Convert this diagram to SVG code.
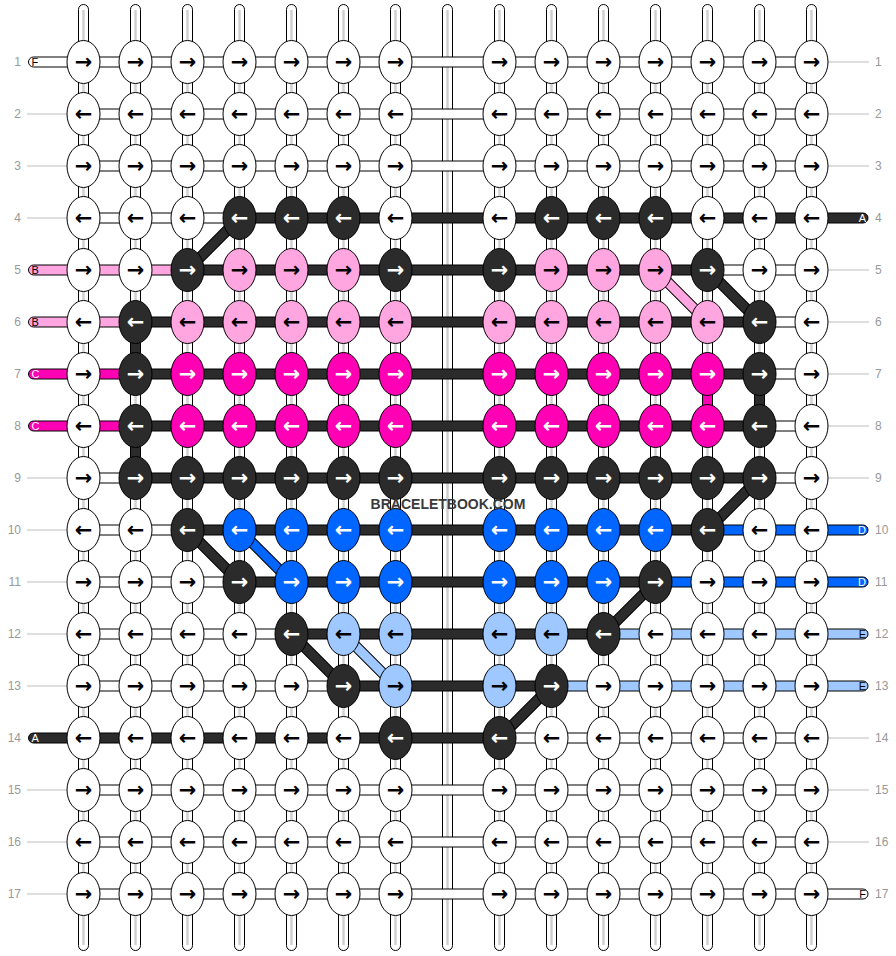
<svg xmlns="http://www.w3.org/2000/svg" width="896" height="956" viewBox="0 0 896 956">
<style>
.n ellipse{stroke:#000;stroke-width:1}
.n text{font-family:"DejaVu Sans",sans-serif;font-weight:bold;font-size:21px;text-anchor:middle}
.w ellipse{fill:#fff}.w text{fill:#000}
.k ellipse{fill:#2b2b2b}.k text{fill:#fff}
.p ellipse{fill:#ffa6e0}.p text{fill:#000}
.m ellipse{fill:#ff00b4}.m text{fill:#fff}
.b ellipse{fill:#0066ff}.b text{fill:#fff}
.l ellipse{fill:#9ec8ff}.l text{fill:#000}
.s{stroke:#000;stroke-width:1}
.fw{fill:#fff}.fk{fill:#2b2b2b}.fp{fill:#ffa6e0}.fm{fill:#ff00b4}.fb{fill:#0066ff}.fl{fill:#9ec8ff}
.v{fill:#fff;stroke:#000;stroke-width:1}
.vc{stroke:#d0d0d0;stroke-width:2.5}
.do{stroke:#000;stroke-width:11}
.dk{stroke:#2b2b2b;stroke-width:9}.dp{stroke:#ffa6e0;stroke-width:9}.db{stroke:#0066ff;stroke-width:9}.dl{stroke:#9ec8ff;stroke-width:9}
.gl{stroke:#bbb;stroke-width:1}
.rn{font-family:"Liberation Sans",Arial,sans-serif;font-size:12px;fill:#999}
.pl{font-family:"Liberation Sans",Arial,sans-serif;font-size:11px}
.wm{font-family:"Liberation Sans",Arial,sans-serif;font-weight:bold;font-size:14px;fill:#3a3a3a;text-anchor:middle}
</style>
<g id="warp">
<rect class="v" x="78.5" y="4.5" width="10" height="946" rx="5"/><line class="vc" x1="83.5" y1="10" x2="83.5" y2="945"/>
<rect class="v" x="130.5" y="4.5" width="10" height="946" rx="5"/><line class="vc" x1="135.5" y1="10" x2="135.5" y2="945"/>
<rect class="v" x="182.5" y="4.5" width="10" height="946" rx="5"/><line class="vc" x1="187.5" y1="10" x2="187.5" y2="945"/>
<rect class="v" x="234.5" y="4.5" width="10" height="946" rx="5"/><line class="vc" x1="239.5" y1="10" x2="239.5" y2="945"/>
<rect class="v" x="286.5" y="4.5" width="10" height="946" rx="5"/><line class="vc" x1="291.5" y1="10" x2="291.5" y2="945"/>
<rect class="v" x="338.5" y="4.5" width="10" height="946" rx="5"/><line class="vc" x1="343.5" y1="10" x2="343.5" y2="945"/>
<rect class="v" x="390.5" y="4.5" width="10" height="946" rx="5"/><line class="vc" x1="395.5" y1="10" x2="395.5" y2="945"/>
<rect class="v" x="442.5" y="4.5" width="10" height="946" rx="5"/><line class="vc" x1="447.5" y1="10" x2="447.5" y2="945"/>
<rect class="v" x="494.5" y="4.5" width="10" height="946" rx="5"/><line class="vc" x1="499.5" y1="10" x2="499.5" y2="945"/>
<rect class="v" x="546.5" y="4.5" width="10" height="946" rx="5"/><line class="vc" x1="551.5" y1="10" x2="551.5" y2="945"/>
<rect class="v" x="598.5" y="4.5" width="10" height="946" rx="5"/><line class="vc" x1="603.5" y1="10" x2="603.5" y2="945"/>
<rect class="v" x="650.5" y="4.5" width="10" height="946" rx="5"/><line class="vc" x1="655.5" y1="10" x2="655.5" y2="945"/>
<rect class="v" x="702.5" y="4.5" width="10" height="946" rx="5"/><line class="vc" x1="707.5" y1="10" x2="707.5" y2="945"/>
<rect class="v" x="754.5" y="4.5" width="10" height="946" rx="5"/><line class="vc" x1="759.5" y1="10" x2="759.5" y2="945"/>
<rect class="v" x="806.5" y="4.5" width="10" height="946" rx="5"/><line class="vc" x1="811.5" y1="10" x2="811.5" y2="945"/>
</g>
<g id="labels">
<line class="gl" x1="27" y1="114" x2="67" y2="114"/><line class="gl" x1="27" y1="166" x2="67" y2="166"/><line class="gl" x1="27" y1="218" x2="67" y2="218"/><line class="gl" x1="27" y1="478" x2="67" y2="478"/><line class="gl" x1="27" y1="530" x2="67" y2="530"/><line class="gl" x1="27" y1="582" x2="67" y2="582"/><line class="gl" x1="27" y1="634" x2="67" y2="634"/><line class="gl" x1="27" y1="686" x2="67" y2="686"/><line class="gl" x1="27" y1="790" x2="67" y2="790"/><line class="gl" x1="27" y1="842" x2="67" y2="842"/><line class="gl" x1="27" y1="894" x2="67" y2="894"/>
<line class="gl" x1="828" y1="62" x2="869" y2="62"/><line class="gl" x1="828" y1="114" x2="869" y2="114"/><line class="gl" x1="828" y1="166" x2="869" y2="166"/><line class="gl" x1="828" y1="270" x2="869" y2="270"/><line class="gl" x1="828" y1="322" x2="869" y2="322"/><line class="gl" x1="828" y1="374" x2="869" y2="374"/><line class="gl" x1="828" y1="426" x2="869" y2="426"/><line class="gl" x1="828" y1="478" x2="869" y2="478"/><line class="gl" x1="828" y1="738" x2="869" y2="738"/><line class="gl" x1="828" y1="790" x2="869" y2="790"/><line class="gl" x1="828" y1="842" x2="869" y2="842"/>
<g class="rn" text-anchor="end">
<text x="21" y="66">1</text><text x="21" y="118">2</text><text x="21" y="170">3</text><text x="21" y="222">4</text><text x="21" y="274">5</text><text x="21" y="326">6</text><text x="21" y="378">7</text><text x="21" y="430">8</text><text x="21" y="482">9</text><text x="21" y="534">10</text><text x="21" y="586">11</text><text x="21" y="638">12</text><text x="21" y="690">13</text><text x="21" y="742">14</text><text x="21" y="794">15</text><text x="21" y="846">16</text><text x="21" y="898">17</text>
</g>
<g class="rn">
<text x="875" y="66">1</text><text x="875" y="118">2</text><text x="875" y="170">3</text><text x="875" y="222">4</text><text x="875" y="274">5</text><text x="875" y="326">6</text><text x="875" y="378">7</text><text x="875" y="430">8</text><text x="875" y="482">9</text><text x="875" y="534">10</text><text x="875" y="586">11</text><text x="875" y="638">12</text><text x="875" y="690">13</text><text x="875" y="742">14</text><text x="875" y="794">15</text><text x="875" y="846">16</text><text x="875" y="898">17</text>
</g>
</g>
<g id="connectors">
<rect class="s fw" x="83.5" y="57" width="728" height="10"/>
<rect class="s fw" x="83.5" y="109" width="728" height="10"/>
<rect class="s fw" x="83.5" y="161" width="728" height="10"/>
<rect class="s fw" x="83.5" y="213" width="156" height="10"/><rect class="s fk" x="239.5" y="213" width="572" height="10"/>
<rect class="s fp" x="83.5" y="265" width="104" height="10"/><rect class="s fk" x="187.5" y="265" width="520" height="10"/><rect class="s fw" x="707.5" y="265" width="104" height="10"/>
<rect class="s fp" x="83.5" y="317" width="52" height="10"/><rect class="s fk" x="135.5" y="317" width="624" height="10"/><rect class="s fw" x="759.5" y="317" width="52" height="10"/>
<rect class="s fm" x="83.5" y="369" width="52" height="10"/><rect class="s fk" x="135.5" y="369" width="624" height="10"/><rect class="s fw" x="759.5" y="369" width="52" height="10"/>
<rect class="s fm" x="83.5" y="421" width="52" height="10"/><rect class="s fk" x="135.5" y="421" width="624" height="10"/><rect class="s fw" x="759.5" y="421" width="52" height="10"/>
<rect class="s fw" x="83.5" y="473" width="52" height="10"/><rect class="s fk" x="135.5" y="473" width="624" height="10"/><rect class="s fw" x="759.5" y="473" width="52" height="10"/>
<rect class="s fw" x="83.5" y="525" width="104" height="10"/><rect class="s fk" x="187.5" y="525" width="520" height="10"/><rect class="s fb" x="707.5" y="525" width="104" height="10"/>
<rect class="s fw" x="83.5" y="577" width="156" height="10"/><rect class="s fk" x="239.5" y="577" width="416" height="10"/><rect class="s fb" x="655.5" y="577" width="156" height="10"/>
<rect class="s fw" x="83.5" y="629" width="208" height="10"/><rect class="s fk" x="291.5" y="629" width="312" height="10"/><rect class="s fl" x="603.5" y="629" width="208" height="10"/>
<rect class="s fw" x="83.5" y="681" width="260" height="10"/><rect class="s fk" x="343.5" y="681" width="208" height="10"/><rect class="s fl" x="551.5" y="681" width="260" height="10"/>
<rect class="s fk" x="83.5" y="733" width="416" height="10"/><rect class="s fw" x="499.5" y="733" width="312" height="10"/>
<rect class="s fw" x="83.5" y="785" width="728" height="10"/>
<rect class="s fw" x="83.5" y="837" width="728" height="10"/>
<rect class="s fw" x="83.5" y="889" width="728" height="10"/>
<rect class="s fk" x="130.5" y="322" width="10" height="52"/>
<rect class="s fk" x="130.5" y="426" width="10" height="52"/>
<rect class="s fk" x="754.5" y="374" width="10" height="52"/>
<rect class="s fm" x="702.5" y="374" width="10" height="52"/>
<line class="do" x1="239.5" y1="218" x2="187.5" y2="270"/><line class="dk" x1="239.5" y1="218" x2="187.5" y2="270"/>
<line class="do" x1="707.5" y1="270" x2="759.5" y2="322"/><line class="dk" x1="707.5" y1="270" x2="759.5" y2="322"/>
<line class="do" x1="655.5" y1="270" x2="707.5" y2="322"/><line class="dp" x1="655.5" y1="270" x2="707.5" y2="322"/>
<line class="do" x1="759.5" y1="478" x2="707.5" y2="530"/><line class="dk" x1="759.5" y1="478" x2="707.5" y2="530"/>
<line class="do" x1="187.5" y1="530" x2="239.5" y2="582"/><line class="dk" x1="187.5" y1="530" x2="239.5" y2="582"/>
<line class="do" x1="239.5" y1="530" x2="291.5" y2="582"/><line class="db" x1="239.5" y1="530" x2="291.5" y2="582"/>
<line class="do" x1="655.5" y1="582" x2="603.5" y2="634"/><line class="dk" x1="655.5" y1="582" x2="603.5" y2="634"/>
<line class="do" x1="291.5" y1="634" x2="343.5" y2="686"/><line class="dk" x1="291.5" y1="634" x2="343.5" y2="686"/>
<line class="do" x1="343.5" y1="634" x2="395.5" y2="686"/><line class="dl" x1="343.5" y1="634" x2="395.5" y2="686"/>
<line class="do" x1="551.5" y1="686" x2="499.5" y2="738"/><line class="dk" x1="551.5" y1="686" x2="499.5" y2="738"/>
</g>
<g id="strand-ends">
<g id="end-F-left"><rect class="s fw" x="28.5" y="57" width="50" height="10" rx="5"/><text class="pl" x="31.5" y="66" fill="#000">F</text></g>
<g id="end-B-5"><rect class="s fp" x="28.5" y="265" width="50" height="10" rx="5"/><text class="pl" x="31.5" y="274" fill="#000">B</text></g>
<g id="end-B-6"><rect class="s fp" x="28.5" y="317" width="50" height="10" rx="5"/><text class="pl" x="31.5" y="326" fill="#000">B</text></g>
<g id="end-C-7"><rect class="s fm" x="28.5" y="369" width="50" height="10" rx="5"/><text class="pl" x="31.5" y="378" fill="#fff">C</text></g>
<g id="end-C-8"><rect class="s fm" x="28.5" y="421" width="50" height="10" rx="5"/><text class="pl" x="31.5" y="430" fill="#fff">C</text></g>
<g id="end-A-14"><rect class="s fk" x="28.5" y="733" width="50" height="10" rx="5"/><text class="pl" x="31.5" y="742" fill="#fff">A</text></g>
<g id="end-A-4"><rect class="s fk" x="800" y="213" width="68" height="10" rx="5"/><text class="pl" x="866" y="222" fill="#fff" text-anchor="end">A</text></g>
<g id="end-D-10"><rect class="s fb" x="800" y="525" width="68" height="10" rx="5"/><text class="pl" x="866" y="534" fill="#fff" text-anchor="end">D</text></g>
<g id="end-D-11"><rect class="s fb" x="800" y="577" width="68" height="10" rx="5"/><text class="pl" x="866" y="586" fill="#fff" text-anchor="end">D</text></g>
<g id="end-E-12"><rect class="s fl" x="800" y="629" width="68" height="10" rx="5"/><text class="pl" x="866" y="638" fill="#000" text-anchor="end">E</text></g>
<g id="end-E-13"><rect class="s fl" x="800" y="681" width="68" height="10" rx="5"/><text class="pl" x="866" y="690" fill="#000" text-anchor="end">E</text></g>
<g id="end-F-right"><rect class="s fw" x="800" y="889" width="68" height="10" rx="5"/><text class="pl" x="866" y="898" fill="#000" text-anchor="end">F</text></g>
</g>
<g id="knots">
<g id="n1-1" class="n w" transform="translate(83.5 62)"><ellipse rx="16.5" ry="21.5"/><text y="6.5">→</text></g>
<g id="n1-2" class="n w" transform="translate(135.5 62)"><ellipse rx="16.5" ry="21.5"/><text y="6.5">→</text></g>
<g id="n1-3" class="n w" transform="translate(187.5 62)"><ellipse rx="16.5" ry="21.5"/><text y="6.5">→</text></g>
<g id="n1-4" class="n w" transform="translate(239.5 62)"><ellipse rx="16.5" ry="21.5"/><text y="6.5">→</text></g>
<g id="n1-5" class="n w" transform="translate(291.5 62)"><ellipse rx="16.5" ry="21.5"/><text y="6.5">→</text></g>
<g id="n1-6" class="n w" transform="translate(343.5 62)"><ellipse rx="16.5" ry="21.5"/><text y="6.5">→</text></g>
<g id="n1-7" class="n w" transform="translate(395.5 62)"><ellipse rx="16.5" ry="21.5"/><text y="6.5">→</text></g>
<g id="n1-8" class="n w" transform="translate(499.5 62)"><ellipse rx="16.5" ry="21.5"/><text y="6.5">→</text></g>
<g id="n1-9" class="n w" transform="translate(551.5 62)"><ellipse rx="16.5" ry="21.5"/><text y="6.5">→</text></g>
<g id="n1-10" class="n w" transform="translate(603.5 62)"><ellipse rx="16.5" ry="21.5"/><text y="6.5">→</text></g>
<g id="n1-11" class="n w" transform="translate(655.5 62)"><ellipse rx="16.5" ry="21.5"/><text y="6.5">→</text></g>
<g id="n1-12" class="n w" transform="translate(707.5 62)"><ellipse rx="16.5" ry="21.5"/><text y="6.5">→</text></g>
<g id="n1-13" class="n w" transform="translate(759.5 62)"><ellipse rx="16.5" ry="21.5"/><text y="6.5">→</text></g>
<g id="n1-14" class="n w" transform="translate(811.5 62)"><ellipse rx="16.5" ry="21.5"/><text y="6.5">→</text></g>
<g id="n2-1" class="n w" transform="translate(83.5 114)"><ellipse rx="16.5" ry="21.5"/><text y="6.5">←</text></g>
<g id="n2-2" class="n w" transform="translate(135.5 114)"><ellipse rx="16.5" ry="21.5"/><text y="6.5">←</text></g>
<g id="n2-3" class="n w" transform="translate(187.5 114)"><ellipse rx="16.5" ry="21.5"/><text y="6.5">←</text></g>
<g id="n2-4" class="n w" transform="translate(239.5 114)"><ellipse rx="16.5" ry="21.5"/><text y="6.5">←</text></g>
<g id="n2-5" class="n w" transform="translate(291.5 114)"><ellipse rx="16.5" ry="21.5"/><text y="6.5">←</text></g>
<g id="n2-6" class="n w" transform="translate(343.5 114)"><ellipse rx="16.5" ry="21.5"/><text y="6.5">←</text></g>
<g id="n2-7" class="n w" transform="translate(395.5 114)"><ellipse rx="16.5" ry="21.5"/><text y="6.5">←</text></g>
<g id="n2-8" class="n w" transform="translate(499.5 114)"><ellipse rx="16.5" ry="21.5"/><text y="6.5">←</text></g>
<g id="n2-9" class="n w" transform="translate(551.5 114)"><ellipse rx="16.5" ry="21.5"/><text y="6.5">←</text></g>
<g id="n2-10" class="n w" transform="translate(603.5 114)"><ellipse rx="16.5" ry="21.5"/><text y="6.5">←</text></g>
<g id="n2-11" class="n w" transform="translate(655.5 114)"><ellipse rx="16.5" ry="21.5"/><text y="6.5">←</text></g>
<g id="n2-12" class="n w" transform="translate(707.5 114)"><ellipse rx="16.5" ry="21.5"/><text y="6.5">←</text></g>
<g id="n2-13" class="n w" transform="translate(759.5 114)"><ellipse rx="16.5" ry="21.5"/><text y="6.5">←</text></g>
<g id="n2-14" class="n w" transform="translate(811.5 114)"><ellipse rx="16.5" ry="21.5"/><text y="6.5">←</text></g>
<g id="n3-1" class="n w" transform="translate(83.5 166)"><ellipse rx="16.5" ry="21.5"/><text y="6.5">→</text></g>
<g id="n3-2" class="n w" transform="translate(135.5 166)"><ellipse rx="16.5" ry="21.5"/><text y="6.5">→</text></g>
<g id="n3-3" class="n w" transform="translate(187.5 166)"><ellipse rx="16.5" ry="21.5"/><text y="6.5">→</text></g>
<g id="n3-4" class="n w" transform="translate(239.5 166)"><ellipse rx="16.5" ry="21.5"/><text y="6.5">→</text></g>
<g id="n3-5" class="n w" transform="translate(291.5 166)"><ellipse rx="16.5" ry="21.5"/><text y="6.5">→</text></g>
<g id="n3-6" class="n w" transform="translate(343.5 166)"><ellipse rx="16.5" ry="21.5"/><text y="6.5">→</text></g>
<g id="n3-7" class="n w" transform="translate(395.5 166)"><ellipse rx="16.5" ry="21.5"/><text y="6.5">→</text></g>
<g id="n3-8" class="n w" transform="translate(499.5 166)"><ellipse rx="16.5" ry="21.5"/><text y="6.5">→</text></g>
<g id="n3-9" class="n w" transform="translate(551.5 166)"><ellipse rx="16.5" ry="21.5"/><text y="6.5">→</text></g>
<g id="n3-10" class="n w" transform="translate(603.5 166)"><ellipse rx="16.5" ry="21.5"/><text y="6.5">→</text></g>
<g id="n3-11" class="n w" transform="translate(655.5 166)"><ellipse rx="16.5" ry="21.5"/><text y="6.5">→</text></g>
<g id="n3-12" class="n w" transform="translate(707.5 166)"><ellipse rx="16.5" ry="21.5"/><text y="6.5">→</text></g>
<g id="n3-13" class="n w" transform="translate(759.5 166)"><ellipse rx="16.5" ry="21.5"/><text y="6.5">→</text></g>
<g id="n3-14" class="n w" transform="translate(811.5 166)"><ellipse rx="16.5" ry="21.5"/><text y="6.5">→</text></g>
<g id="n4-1" class="n w" transform="translate(83.5 218)"><ellipse rx="16.5" ry="21.5"/><text y="6.5">←</text></g>
<g id="n4-2" class="n w" transform="translate(135.5 218)"><ellipse rx="16.5" ry="21.5"/><text y="6.5">←</text></g>
<g id="n4-3" class="n w" transform="translate(187.5 218)"><ellipse rx="16.5" ry="21.5"/><text y="6.5">←</text></g>
<g id="n4-4" class="n k" transform="translate(239.5 218)"><ellipse rx="16.5" ry="21.5"/><text y="6.5">←</text></g>
<g id="n4-5" class="n k" transform="translate(291.5 218)"><ellipse rx="16.5" ry="21.5"/><text y="6.5">←</text></g>
<g id="n4-6" class="n k" transform="translate(343.5 218)"><ellipse rx="16.5" ry="21.5"/><text y="6.5">←</text></g>
<g id="n4-7" class="n w" transform="translate(395.5 218)"><ellipse rx="16.5" ry="21.5"/><text y="6.5">←</text></g>
<g id="n4-8" class="n w" transform="translate(499.5 218)"><ellipse rx="16.5" ry="21.5"/><text y="6.5">←</text></g>
<g id="n4-9" class="n k" transform="translate(551.5 218)"><ellipse rx="16.5" ry="21.5"/><text y="6.5">←</text></g>
<g id="n4-10" class="n k" transform="translate(603.5 218)"><ellipse rx="16.5" ry="21.5"/><text y="6.5">←</text></g>
<g id="n4-11" class="n k" transform="translate(655.5 218)"><ellipse rx="16.5" ry="21.5"/><text y="6.5">←</text></g>
<g id="n4-12" class="n w" transform="translate(707.5 218)"><ellipse rx="16.5" ry="21.5"/><text y="6.5">←</text></g>
<g id="n4-13" class="n w" transform="translate(759.5 218)"><ellipse rx="16.5" ry="21.5"/><text y="6.5">←</text></g>
<g id="n4-14" class="n w" transform="translate(811.5 218)"><ellipse rx="16.5" ry="21.5"/><text y="6.5">←</text></g>
<g id="n5-1" class="n w" transform="translate(83.5 270)"><ellipse rx="16.5" ry="21.5"/><text y="6.5">→</text></g>
<g id="n5-2" class="n w" transform="translate(135.5 270)"><ellipse rx="16.5" ry="21.5"/><text y="6.5">→</text></g>
<g id="n5-3" class="n k" transform="translate(187.5 270)"><ellipse rx="16.5" ry="21.5"/><text y="6.5">→</text></g>
<g id="n5-4" class="n p" transform="translate(239.5 270)"><ellipse rx="16.5" ry="21.5"/><text y="6.5">→</text></g>
<g id="n5-5" class="n p" transform="translate(291.5 270)"><ellipse rx="16.5" ry="21.5"/><text y="6.5">→</text></g>
<g id="n5-6" class="n p" transform="translate(343.5 270)"><ellipse rx="16.5" ry="21.5"/><text y="6.5">→</text></g>
<g id="n5-7" class="n k" transform="translate(395.5 270)"><ellipse rx="16.5" ry="21.5"/><text y="6.5">→</text></g>
<g id="n5-8" class="n k" transform="translate(499.5 270)"><ellipse rx="16.5" ry="21.5"/><text y="6.5">→</text></g>
<g id="n5-9" class="n p" transform="translate(551.5 270)"><ellipse rx="16.5" ry="21.5"/><text y="6.5">→</text></g>
<g id="n5-10" class="n p" transform="translate(603.5 270)"><ellipse rx="16.5" ry="21.5"/><text y="6.5">→</text></g>
<g id="n5-11" class="n p" transform="translate(655.5 270)"><ellipse rx="16.5" ry="21.5"/><text y="6.5">→</text></g>
<g id="n5-12" class="n k" transform="translate(707.5 270)"><ellipse rx="16.5" ry="21.5"/><text y="6.5">→</text></g>
<g id="n5-13" class="n w" transform="translate(759.5 270)"><ellipse rx="16.5" ry="21.5"/><text y="6.5">→</text></g>
<g id="n5-14" class="n w" transform="translate(811.5 270)"><ellipse rx="16.5" ry="21.5"/><text y="6.5">→</text></g>
<g id="n6-1" class="n w" transform="translate(83.5 322)"><ellipse rx="16.5" ry="21.5"/><text y="6.5">←</text></g>
<g id="n6-2" class="n k" transform="translate(135.5 322)"><ellipse rx="16.5" ry="21.5"/><text y="6.5">←</text></g>
<g id="n6-3" class="n p" transform="translate(187.5 322)"><ellipse rx="16.5" ry="21.5"/><text y="6.5">←</text></g>
<g id="n6-4" class="n p" transform="translate(239.5 322)"><ellipse rx="16.5" ry="21.5"/><text y="6.5">←</text></g>
<g id="n6-5" class="n p" transform="translate(291.5 322)"><ellipse rx="16.5" ry="21.5"/><text y="6.5">←</text></g>
<g id="n6-6" class="n p" transform="translate(343.5 322)"><ellipse rx="16.5" ry="21.5"/><text y="6.5">←</text></g>
<g id="n6-7" class="n p" transform="translate(395.5 322)"><ellipse rx="16.5" ry="21.5"/><text y="6.5">←</text></g>
<g id="n6-8" class="n p" transform="translate(499.5 322)"><ellipse rx="16.5" ry="21.5"/><text y="6.5">←</text></g>
<g id="n6-9" class="n p" transform="translate(551.5 322)"><ellipse rx="16.5" ry="21.5"/><text y="6.5">←</text></g>
<g id="n6-10" class="n p" transform="translate(603.5 322)"><ellipse rx="16.5" ry="21.5"/><text y="6.5">←</text></g>
<g id="n6-11" class="n p" transform="translate(655.5 322)"><ellipse rx="16.5" ry="21.5"/><text y="6.5">←</text></g>
<g id="n6-12" class="n p" transform="translate(707.5 322)"><ellipse rx="16.5" ry="21.5"/><text y="6.5">←</text></g>
<g id="n6-13" class="n k" transform="translate(759.5 322)"><ellipse rx="16.5" ry="21.5"/><text y="6.5">←</text></g>
<g id="n6-14" class="n w" transform="translate(811.5 322)"><ellipse rx="16.5" ry="21.5"/><text y="6.5">←</text></g>
<g id="n7-1" class="n w" transform="translate(83.5 374)"><ellipse rx="16.5" ry="21.5"/><text y="6.5">→</text></g>
<g id="n7-2" class="n k" transform="translate(135.5 374)"><ellipse rx="16.5" ry="21.5"/><text y="6.5">→</text></g>
<g id="n7-3" class="n m" transform="translate(187.5 374)"><ellipse rx="16.5" ry="21.5"/><text y="6.5">→</text></g>
<g id="n7-4" class="n m" transform="translate(239.5 374)"><ellipse rx="16.5" ry="21.5"/><text y="6.5">→</text></g>
<g id="n7-5" class="n m" transform="translate(291.5 374)"><ellipse rx="16.5" ry="21.5"/><text y="6.5">→</text></g>
<g id="n7-6" class="n m" transform="translate(343.5 374)"><ellipse rx="16.5" ry="21.5"/><text y="6.5">→</text></g>
<g id="n7-7" class="n m" transform="translate(395.5 374)"><ellipse rx="16.5" ry="21.5"/><text y="6.5">→</text></g>
<g id="n7-8" class="n m" transform="translate(499.5 374)"><ellipse rx="16.5" ry="21.5"/><text y="6.5">→</text></g>
<g id="n7-9" class="n m" transform="translate(551.5 374)"><ellipse rx="16.5" ry="21.5"/><text y="6.5">→</text></g>
<g id="n7-10" class="n m" transform="translate(603.5 374)"><ellipse rx="16.5" ry="21.5"/><text y="6.5">→</text></g>
<g id="n7-11" class="n m" transform="translate(655.5 374)"><ellipse rx="16.5" ry="21.5"/><text y="6.5">→</text></g>
<g id="n7-12" class="n m" transform="translate(707.5 374)"><ellipse rx="16.5" ry="21.5"/><text y="6.5">→</text></g>
<g id="n7-13" class="n k" transform="translate(759.5 374)"><ellipse rx="16.5" ry="21.5"/><text y="6.5">→</text></g>
<g id="n7-14" class="n w" transform="translate(811.5 374)"><ellipse rx="16.5" ry="21.5"/><text y="6.5">→</text></g>
<g id="n8-1" class="n w" transform="translate(83.5 426)"><ellipse rx="16.5" ry="21.5"/><text y="6.5">←</text></g>
<g id="n8-2" class="n k" transform="translate(135.5 426)"><ellipse rx="16.5" ry="21.5"/><text y="6.5">←</text></g>
<g id="n8-3" class="n m" transform="translate(187.5 426)"><ellipse rx="16.5" ry="21.5"/><text y="6.5">←</text></g>
<g id="n8-4" class="n m" transform="translate(239.5 426)"><ellipse rx="16.5" ry="21.5"/><text y="6.5">←</text></g>
<g id="n8-5" class="n m" transform="translate(291.5 426)"><ellipse rx="16.5" ry="21.5"/><text y="6.5">←</text></g>
<g id="n8-6" class="n m" transform="translate(343.5 426)"><ellipse rx="16.5" ry="21.5"/><text y="6.5">←</text></g>
<g id="n8-7" class="n m" transform="translate(395.5 426)"><ellipse rx="16.5" ry="21.5"/><text y="6.5">←</text></g>
<g id="n8-8" class="n m" transform="translate(499.5 426)"><ellipse rx="16.5" ry="21.5"/><text y="6.5">←</text></g>
<g id="n8-9" class="n m" transform="translate(551.5 426)"><ellipse rx="16.5" ry="21.5"/><text y="6.5">←</text></g>
<g id="n8-10" class="n m" transform="translate(603.5 426)"><ellipse rx="16.5" ry="21.5"/><text y="6.5">←</text></g>
<g id="n8-11" class="n m" transform="translate(655.5 426)"><ellipse rx="16.5" ry="21.5"/><text y="6.5">←</text></g>
<g id="n8-12" class="n m" transform="translate(707.5 426)"><ellipse rx="16.5" ry="21.5"/><text y="6.5">←</text></g>
<g id="n8-13" class="n k" transform="translate(759.5 426)"><ellipse rx="16.5" ry="21.5"/><text y="6.5">←</text></g>
<g id="n8-14" class="n w" transform="translate(811.5 426)"><ellipse rx="16.5" ry="21.5"/><text y="6.5">←</text></g>
<g id="n9-1" class="n w" transform="translate(83.5 478)"><ellipse rx="16.5" ry="21.5"/><text y="6.5">→</text></g>
<g id="n9-2" class="n k" transform="translate(135.5 478)"><ellipse rx="16.5" ry="21.5"/><text y="6.5">→</text></g>
<g id="n9-3" class="n k" transform="translate(187.5 478)"><ellipse rx="16.5" ry="21.5"/><text y="6.5">→</text></g>
<g id="n9-4" class="n k" transform="translate(239.5 478)"><ellipse rx="16.5" ry="21.5"/><text y="6.5">→</text></g>
<g id="n9-5" class="n k" transform="translate(291.5 478)"><ellipse rx="16.5" ry="21.5"/><text y="6.5">→</text></g>
<g id="n9-6" class="n k" transform="translate(343.5 478)"><ellipse rx="16.5" ry="21.5"/><text y="6.5">→</text></g>
<g id="n9-7" class="n k" transform="translate(395.5 478)"><ellipse rx="16.5" ry="21.5"/><text y="6.5">→</text></g>
<g id="n9-8" class="n k" transform="translate(499.5 478)"><ellipse rx="16.5" ry="21.5"/><text y="6.5">→</text></g>
<g id="n9-9" class="n k" transform="translate(551.5 478)"><ellipse rx="16.5" ry="21.5"/><text y="6.5">→</text></g>
<g id="n9-10" class="n k" transform="translate(603.5 478)"><ellipse rx="16.5" ry="21.5"/><text y="6.5">→</text></g>
<g id="n9-11" class="n k" transform="translate(655.5 478)"><ellipse rx="16.5" ry="21.5"/><text y="6.5">→</text></g>
<g id="n9-12" class="n k" transform="translate(707.5 478)"><ellipse rx="16.5" ry="21.5"/><text y="6.5">→</text></g>
<g id="n9-13" class="n k" transform="translate(759.5 478)"><ellipse rx="16.5" ry="21.5"/><text y="6.5">→</text></g>
<g id="n9-14" class="n w" transform="translate(811.5 478)"><ellipse rx="16.5" ry="21.5"/><text y="6.5">→</text></g>
<g id="n10-1" class="n w" transform="translate(83.5 530)"><ellipse rx="16.5" ry="21.5"/><text y="6.5">←</text></g>
<g id="n10-2" class="n w" transform="translate(135.5 530)"><ellipse rx="16.5" ry="21.5"/><text y="6.5">←</text></g>
<g id="n10-3" class="n k" transform="translate(187.5 530)"><ellipse rx="16.5" ry="21.5"/><text y="6.5">←</text></g>
<g id="n10-4" class="n b" transform="translate(239.5 530)"><ellipse rx="16.5" ry="21.5"/><text y="6.5">←</text></g>
<g id="n10-5" class="n b" transform="translate(291.5 530)"><ellipse rx="16.5" ry="21.5"/><text y="6.5">←</text></g>
<g id="n10-6" class="n b" transform="translate(343.5 530)"><ellipse rx="16.5" ry="21.5"/><text y="6.5">←</text></g>
<g id="n10-7" class="n b" transform="translate(395.5 530)"><ellipse rx="16.5" ry="21.5"/><text y="6.5">←</text></g>
<g id="n10-8" class="n b" transform="translate(499.5 530)"><ellipse rx="16.5" ry="21.5"/><text y="6.5">←</text></g>
<g id="n10-9" class="n b" transform="translate(551.5 530)"><ellipse rx="16.5" ry="21.5"/><text y="6.5">←</text></g>
<g id="n10-10" class="n b" transform="translate(603.5 530)"><ellipse rx="16.5" ry="21.5"/><text y="6.5">←</text></g>
<g id="n10-11" class="n b" transform="translate(655.5 530)"><ellipse rx="16.5" ry="21.5"/><text y="6.5">←</text></g>
<g id="n10-12" class="n k" transform="translate(707.5 530)"><ellipse rx="16.5" ry="21.5"/><text y="6.5">←</text></g>
<g id="n10-13" class="n w" transform="translate(759.5 530)"><ellipse rx="16.5" ry="21.5"/><text y="6.5">←</text></g>
<g id="n10-14" class="n w" transform="translate(811.5 530)"><ellipse rx="16.5" ry="21.5"/><text y="6.5">←</text></g>
<g id="n11-1" class="n w" transform="translate(83.5 582)"><ellipse rx="16.5" ry="21.5"/><text y="6.5">→</text></g>
<g id="n11-2" class="n w" transform="translate(135.5 582)"><ellipse rx="16.5" ry="21.5"/><text y="6.5">→</text></g>
<g id="n11-3" class="n w" transform="translate(187.5 582)"><ellipse rx="16.5" ry="21.5"/><text y="6.5">→</text></g>
<g id="n11-4" class="n k" transform="translate(239.5 582)"><ellipse rx="16.5" ry="21.5"/><text y="6.5">→</text></g>
<g id="n11-5" class="n b" transform="translate(291.5 582)"><ellipse rx="16.5" ry="21.5"/><text y="6.5">→</text></g>
<g id="n11-6" class="n b" transform="translate(343.5 582)"><ellipse rx="16.5" ry="21.5"/><text y="6.5">→</text></g>
<g id="n11-7" class="n b" transform="translate(395.5 582)"><ellipse rx="16.5" ry="21.5"/><text y="6.5">→</text></g>
<g id="n11-8" class="n b" transform="translate(499.5 582)"><ellipse rx="16.5" ry="21.5"/><text y="6.5">→</text></g>
<g id="n11-9" class="n b" transform="translate(551.5 582)"><ellipse rx="16.5" ry="21.5"/><text y="6.5">→</text></g>
<g id="n11-10" class="n b" transform="translate(603.5 582)"><ellipse rx="16.5" ry="21.5"/><text y="6.5">→</text></g>
<g id="n11-11" class="n k" transform="translate(655.5 582)"><ellipse rx="16.5" ry="21.5"/><text y="6.5">→</text></g>
<g id="n11-12" class="n w" transform="translate(707.5 582)"><ellipse rx="16.5" ry="21.5"/><text y="6.5">→</text></g>
<g id="n11-13" class="n w" transform="translate(759.5 582)"><ellipse rx="16.5" ry="21.5"/><text y="6.5">→</text></g>
<g id="n11-14" class="n w" transform="translate(811.5 582)"><ellipse rx="16.5" ry="21.5"/><text y="6.5">→</text></g>
<g id="n12-1" class="n w" transform="translate(83.5 634)"><ellipse rx="16.5" ry="21.5"/><text y="6.5">←</text></g>
<g id="n12-2" class="n w" transform="translate(135.5 634)"><ellipse rx="16.5" ry="21.5"/><text y="6.5">←</text></g>
<g id="n12-3" class="n w" transform="translate(187.5 634)"><ellipse rx="16.5" ry="21.5"/><text y="6.5">←</text></g>
<g id="n12-4" class="n w" transform="translate(239.5 634)"><ellipse rx="16.5" ry="21.5"/><text y="6.5">←</text></g>
<g id="n12-5" class="n k" transform="translate(291.5 634)"><ellipse rx="16.5" ry="21.5"/><text y="6.5">←</text></g>
<g id="n12-6" class="n l" transform="translate(343.5 634)"><ellipse rx="16.5" ry="21.5"/><text y="6.5">←</text></g>
<g id="n12-7" class="n l" transform="translate(395.5 634)"><ellipse rx="16.5" ry="21.5"/><text y="6.5">←</text></g>
<g id="n12-8" class="n l" transform="translate(499.5 634)"><ellipse rx="16.5" ry="21.5"/><text y="6.5">←</text></g>
<g id="n12-9" class="n l" transform="translate(551.5 634)"><ellipse rx="16.5" ry="21.5"/><text y="6.5">←</text></g>
<g id="n12-10" class="n k" transform="translate(603.5 634)"><ellipse rx="16.5" ry="21.5"/><text y="6.5">←</text></g>
<g id="n12-11" class="n w" transform="translate(655.5 634)"><ellipse rx="16.5" ry="21.5"/><text y="6.5">←</text></g>
<g id="n12-12" class="n w" transform="translate(707.5 634)"><ellipse rx="16.5" ry="21.5"/><text y="6.5">←</text></g>
<g id="n12-13" class="n w" transform="translate(759.5 634)"><ellipse rx="16.5" ry="21.5"/><text y="6.5">←</text></g>
<g id="n12-14" class="n w" transform="translate(811.5 634)"><ellipse rx="16.5" ry="21.5"/><text y="6.5">←</text></g>
<g id="n13-1" class="n w" transform="translate(83.5 686)"><ellipse rx="16.5" ry="21.5"/><text y="6.5">→</text></g>
<g id="n13-2" class="n w" transform="translate(135.5 686)"><ellipse rx="16.5" ry="21.5"/><text y="6.5">→</text></g>
<g id="n13-3" class="n w" transform="translate(187.5 686)"><ellipse rx="16.5" ry="21.5"/><text y="6.5">→</text></g>
<g id="n13-4" class="n w" transform="translate(239.5 686)"><ellipse rx="16.5" ry="21.5"/><text y="6.5">→</text></g>
<g id="n13-5" class="n w" transform="translate(291.5 686)"><ellipse rx="16.5" ry="21.5"/><text y="6.5">→</text></g>
<g id="n13-6" class="n k" transform="translate(343.5 686)"><ellipse rx="16.5" ry="21.5"/><text y="6.5">→</text></g>
<g id="n13-7" class="n l" transform="translate(395.5 686)"><ellipse rx="16.5" ry="21.5"/><text y="6.5">→</text></g>
<g id="n13-8" class="n l" transform="translate(499.5 686)"><ellipse rx="16.5" ry="21.5"/><text y="6.5">→</text></g>
<g id="n13-9" class="n k" transform="translate(551.5 686)"><ellipse rx="16.5" ry="21.5"/><text y="6.5">→</text></g>
<g id="n13-10" class="n w" transform="translate(603.5 686)"><ellipse rx="16.5" ry="21.5"/><text y="6.5">→</text></g>
<g id="n13-11" class="n w" transform="translate(655.5 686)"><ellipse rx="16.5" ry="21.5"/><text y="6.5">→</text></g>
<g id="n13-12" class="n w" transform="translate(707.5 686)"><ellipse rx="16.5" ry="21.5"/><text y="6.5">→</text></g>
<g id="n13-13" class="n w" transform="translate(759.5 686)"><ellipse rx="16.5" ry="21.5"/><text y="6.5">→</text></g>
<g id="n13-14" class="n w" transform="translate(811.5 686)"><ellipse rx="16.5" ry="21.5"/><text y="6.5">→</text></g>
<g id="n14-1" class="n w" transform="translate(83.5 738)"><ellipse rx="16.5" ry="21.5"/><text y="6.5">←</text></g>
<g id="n14-2" class="n w" transform="translate(135.5 738)"><ellipse rx="16.5" ry="21.5"/><text y="6.5">←</text></g>
<g id="n14-3" class="n w" transform="translate(187.5 738)"><ellipse rx="16.5" ry="21.5"/><text y="6.5">←</text></g>
<g id="n14-4" class="n w" transform="translate(239.5 738)"><ellipse rx="16.5" ry="21.5"/><text y="6.5">←</text></g>
<g id="n14-5" class="n w" transform="translate(291.5 738)"><ellipse rx="16.5" ry="21.5"/><text y="6.5">←</text></g>
<g id="n14-6" class="n w" transform="translate(343.5 738)"><ellipse rx="16.5" ry="21.5"/><text y="6.5">←</text></g>
<g id="n14-7" class="n k" transform="translate(395.5 738)"><ellipse rx="16.5" ry="21.5"/><text y="6.5">←</text></g>
<g id="n14-8" class="n k" transform="translate(499.5 738)"><ellipse rx="16.5" ry="21.5"/><text y="6.5">←</text></g>
<g id="n14-9" class="n w" transform="translate(551.5 738)"><ellipse rx="16.5" ry="21.5"/><text y="6.5">←</text></g>
<g id="n14-10" class="n w" transform="translate(603.5 738)"><ellipse rx="16.5" ry="21.5"/><text y="6.5">←</text></g>
<g id="n14-11" class="n w" transform="translate(655.5 738)"><ellipse rx="16.5" ry="21.5"/><text y="6.5">←</text></g>
<g id="n14-12" class="n w" transform="translate(707.5 738)"><ellipse rx="16.5" ry="21.5"/><text y="6.5">←</text></g>
<g id="n14-13" class="n w" transform="translate(759.5 738)"><ellipse rx="16.5" ry="21.5"/><text y="6.5">←</text></g>
<g id="n14-14" class="n w" transform="translate(811.5 738)"><ellipse rx="16.5" ry="21.5"/><text y="6.5">←</text></g>
<g id="n15-1" class="n w" transform="translate(83.5 790)"><ellipse rx="16.5" ry="21.5"/><text y="6.5">→</text></g>
<g id="n15-2" class="n w" transform="translate(135.5 790)"><ellipse rx="16.5" ry="21.5"/><text y="6.5">→</text></g>
<g id="n15-3" class="n w" transform="translate(187.5 790)"><ellipse rx="16.5" ry="21.5"/><text y="6.5">→</text></g>
<g id="n15-4" class="n w" transform="translate(239.5 790)"><ellipse rx="16.5" ry="21.5"/><text y="6.5">→</text></g>
<g id="n15-5" class="n w" transform="translate(291.5 790)"><ellipse rx="16.5" ry="21.5"/><text y="6.5">→</text></g>
<g id="n15-6" class="n w" transform="translate(343.5 790)"><ellipse rx="16.5" ry="21.5"/><text y="6.5">→</text></g>
<g id="n15-7" class="n w" transform="translate(395.5 790)"><ellipse rx="16.5" ry="21.5"/><text y="6.5">→</text></g>
<g id="n15-8" class="n w" transform="translate(499.5 790)"><ellipse rx="16.5" ry="21.5"/><text y="6.5">→</text></g>
<g id="n15-9" class="n w" transform="translate(551.5 790)"><ellipse rx="16.5" ry="21.5"/><text y="6.5">→</text></g>
<g id="n15-10" class="n w" transform="translate(603.5 790)"><ellipse rx="16.5" ry="21.5"/><text y="6.5">→</text></g>
<g id="n15-11" class="n w" transform="translate(655.5 790)"><ellipse rx="16.5" ry="21.5"/><text y="6.5">→</text></g>
<g id="n15-12" class="n w" transform="translate(707.5 790)"><ellipse rx="16.5" ry="21.5"/><text y="6.5">→</text></g>
<g id="n15-13" class="n w" transform="translate(759.5 790)"><ellipse rx="16.5" ry="21.5"/><text y="6.5">→</text></g>
<g id="n15-14" class="n w" transform="translate(811.5 790)"><ellipse rx="16.5" ry="21.5"/><text y="6.5">→</text></g>
<g id="n16-1" class="n w" transform="translate(83.5 842)"><ellipse rx="16.5" ry="21.5"/><text y="6.5">←</text></g>
<g id="n16-2" class="n w" transform="translate(135.5 842)"><ellipse rx="16.5" ry="21.5"/><text y="6.5">←</text></g>
<g id="n16-3" class="n w" transform="translate(187.5 842)"><ellipse rx="16.5" ry="21.5"/><text y="6.5">←</text></g>
<g id="n16-4" class="n w" transform="translate(239.5 842)"><ellipse rx="16.5" ry="21.5"/><text y="6.5">←</text></g>
<g id="n16-5" class="n w" transform="translate(291.5 842)"><ellipse rx="16.5" ry="21.5"/><text y="6.5">←</text></g>
<g id="n16-6" class="n w" transform="translate(343.5 842)"><ellipse rx="16.5" ry="21.5"/><text y="6.5">←</text></g>
<g id="n16-7" class="n w" transform="translate(395.5 842)"><ellipse rx="16.5" ry="21.5"/><text y="6.5">←</text></g>
<g id="n16-8" class="n w" transform="translate(499.5 842)"><ellipse rx="16.5" ry="21.5"/><text y="6.5">←</text></g>
<g id="n16-9" class="n w" transform="translate(551.5 842)"><ellipse rx="16.5" ry="21.5"/><text y="6.5">←</text></g>
<g id="n16-10" class="n w" transform="translate(603.5 842)"><ellipse rx="16.5" ry="21.5"/><text y="6.5">←</text></g>
<g id="n16-11" class="n w" transform="translate(655.5 842)"><ellipse rx="16.5" ry="21.5"/><text y="6.5">←</text></g>
<g id="n16-12" class="n w" transform="translate(707.5 842)"><ellipse rx="16.5" ry="21.5"/><text y="6.5">←</text></g>
<g id="n16-13" class="n w" transform="translate(759.5 842)"><ellipse rx="16.5" ry="21.5"/><text y="6.5">←</text></g>
<g id="n16-14" class="n w" transform="translate(811.5 842)"><ellipse rx="16.5" ry="21.5"/><text y="6.5">←</text></g>
<g id="n17-1" class="n w" transform="translate(83.5 894)"><ellipse rx="16.5" ry="21.5"/><text y="6.5">→</text></g>
<g id="n17-2" class="n w" transform="translate(135.5 894)"><ellipse rx="16.5" ry="21.5"/><text y="6.5">→</text></g>
<g id="n17-3" class="n w" transform="translate(187.5 894)"><ellipse rx="16.5" ry="21.5"/><text y="6.5">→</text></g>
<g id="n17-4" class="n w" transform="translate(239.5 894)"><ellipse rx="16.5" ry="21.5"/><text y="6.5">→</text></g>
<g id="n17-5" class="n w" transform="translate(291.5 894)"><ellipse rx="16.5" ry="21.5"/><text y="6.5">→</text></g>
<g id="n17-6" class="n w" transform="translate(343.5 894)"><ellipse rx="16.5" ry="21.5"/><text y="6.5">→</text></g>
<g id="n17-7" class="n w" transform="translate(395.5 894)"><ellipse rx="16.5" ry="21.5"/><text y="6.5">→</text></g>
<g id="n17-8" class="n w" transform="translate(499.5 894)"><ellipse rx="16.5" ry="21.5"/><text y="6.5">→</text></g>
<g id="n17-9" class="n w" transform="translate(551.5 894)"><ellipse rx="16.5" ry="21.5"/><text y="6.5">→</text></g>
<g id="n17-10" class="n w" transform="translate(603.5 894)"><ellipse rx="16.5" ry="21.5"/><text y="6.5">→</text></g>
<g id="n17-11" class="n w" transform="translate(655.5 894)"><ellipse rx="16.5" ry="21.5"/><text y="6.5">→</text></g>
<g id="n17-12" class="n w" transform="translate(707.5 894)"><ellipse rx="16.5" ry="21.5"/><text y="6.5">→</text></g>
<g id="n17-13" class="n w" transform="translate(759.5 894)"><ellipse rx="16.5" ry="21.5"/><text y="6.5">→</text></g>
<g id="n17-14" class="n w" transform="translate(811.5 894)"><ellipse rx="16.5" ry="21.5"/><text y="6.5">→</text></g>
</g>
<text class="wm" x="448" y="509">BRACELETBOOK.COM</text>
</svg>
